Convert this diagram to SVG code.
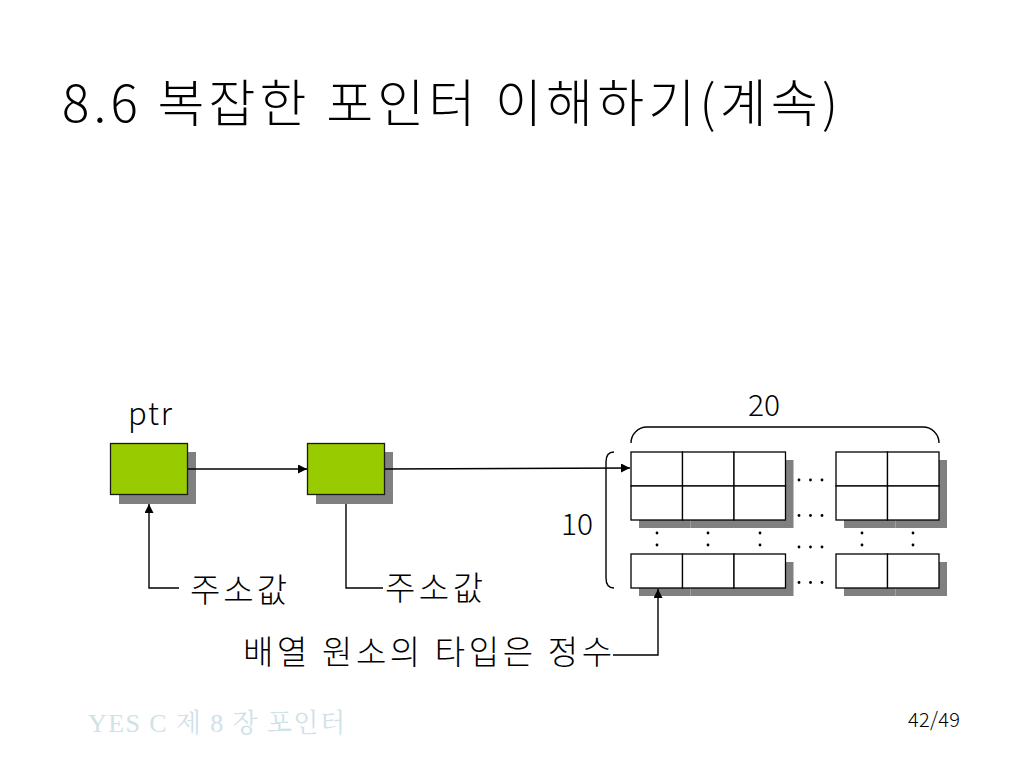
<svg xmlns="http://www.w3.org/2000/svg" width="1024" height="768" viewBox="0 0 1024 768">
<style>
.ko{font-family:"Noto Sans CJK KR","Noto Sans",sans-serif;fill:#000;font-weight:300}
.la{font-family:"Noto Sans CJK KR","Liberation Sans",sans-serif;fill:#000;font-weight:300}
.ptrbox{fill:#99cc00;stroke:#1a1a1a;stroke-width:1.3}
.shadow{fill:#808080}
.cell{fill:#ffffff;stroke:#000;stroke-width:1.3}
.ln{fill:none;stroke:#000;stroke-width:1.4}
.dot{fill:#000}
</style>
<defs>
<marker id="ah" viewBox="0 0 10 10" refX="10" refY="5" markerWidth="10" markerHeight="9" markerUnits="userSpaceOnUse" orient="auto">
<path d="M0,0 L10,5 L0,10 z" fill="#000"/>
</marker>
</defs>
<rect width="1024" height="768" fill="#fff"/>

<text class="ko" x="62" y="122" font-size="51" textLength="776" lengthAdjust="spacing">8.6 복잡한 포인터 이해하기(계속)</text>

<g id="ptr-node">
<text class="la" x="128" y="425" font-size="31" textLength="44" lengthAdjust="spacing">ptr</text>
<rect class="shadow" x="119" y="452" width="77" height="52"/>
<rect class="ptrbox" x="110.5" y="443.5" width="77" height="51"/>
</g>

<g id="pptr-node">
<rect class="shadow" x="316" y="452" width="77" height="52"/>
<rect class="ptrbox" x="307.5" y="443.5" width="77" height="51"/>
</g>

<g id="array-node">
<g class="shadow">
<rect x="639" y="460" width="51.5" height="34"/><rect x="690.5" y="460" width="51.5" height="34"/><rect x="742" y="460" width="51.5" height="34"/>
<rect x="639" y="494" width="51.5" height="34"/><rect x="690.5" y="494" width="51.5" height="34"/><rect x="742" y="494" width="51.5" height="34"/>
<rect x="639" y="562" width="51.5" height="34"/><rect x="690.5" y="562" width="51.5" height="34"/><rect x="742" y="562" width="51.5" height="34"/>
<rect x="844" y="460" width="51.5" height="34"/><rect x="895.5" y="460" width="51.5" height="34"/>
<rect x="844" y="494" width="51.5" height="34"/><rect x="895.5" y="494" width="51.5" height="34"/>
<rect x="844" y="562" width="51.5" height="34"/><rect x="895.5" y="562" width="51.5" height="34"/>
</g>
<g class="cell">
<rect x="631" y="452" width="51.5" height="34"/><rect x="682.5" y="452" width="51.5" height="34"/><rect x="734" y="452" width="51.5" height="34"/>
<rect x="631" y="486" width="51.5" height="34"/><rect x="682.5" y="486" width="51.5" height="34"/><rect x="734" y="486" width="51.5" height="34"/>
<rect x="631" y="554" width="51.5" height="34"/><rect x="682.5" y="554" width="51.5" height="34"/><rect x="734" y="554" width="51.5" height="34"/>
<rect x="836" y="452" width="51.5" height="34"/><rect x="887.5" y="452" width="51.5" height="34"/>
<rect x="836" y="486" width="51.5" height="34"/><rect x="887.5" y="486" width="51.5" height="34"/>
<rect x="836" y="554" width="51.5" height="34"/><rect x="887.5" y="554" width="51.5" height="34"/>
</g>
<g class="dot">
<circle cx="799" cy="480" r="1.4"/><circle cx="810.5" cy="480" r="1.4"/><circle cx="822" cy="480" r="1.4"/>
<circle cx="799" cy="515.5" r="1.4"/><circle cx="810.5" cy="515.5" r="1.4"/><circle cx="822" cy="515.5" r="1.4"/>
<circle cx="799" cy="547" r="1.4"/><circle cx="810.5" cy="547" r="1.4"/><circle cx="822" cy="547" r="1.4"/>
<circle cx="799" cy="582.5" r="1.4"/><circle cx="810.5" cy="582.5" r="1.4"/><circle cx="822" cy="582.5" r="1.4"/>
<circle cx="657" cy="533" r="1.4"/><circle cx="657" cy="545" r="1.4"/>
<circle cx="708" cy="533" r="1.4"/><circle cx="708" cy="545" r="1.4"/>
<circle cx="760" cy="533" r="1.4"/><circle cx="760" cy="545" r="1.4"/>
<circle cx="862" cy="533" r="1.4"/><circle cx="862" cy="545" r="1.4"/>
<circle cx="913" cy="533" r="1.4"/><circle cx="913" cy="545" r="1.4"/>
</g>
<path class="ln" stroke-width="1.2" d="M631,443 A16,16 0 0 1 647,427 L923,427 A16,16 0 0 1 939,443"/>
<path class="ln" stroke-width="1.2" d="M614,452 Q606,452 606,462 L606,578 Q606,588 614,588"/>
<text class="la" x="764" y="416" font-size="30" text-anchor="middle">20</text>
<text class="la" x="577" y="535" font-size="30" text-anchor="middle">10</text>
</g>

<g id="labels">
<text class="ko" x="190" y="602" font-size="33" textLength="97" lengthAdjust="spacing">주소값</text>
<text class="ko" x="385" y="600" font-size="33" textLength="98" lengthAdjust="spacing">주소값</text>
<text class="ko" x="243" y="664" font-size="33" textLength="369" lengthAdjust="spacing">배열 원소의 타입은 정수</text>
</g>

<g id="connectors">
<path class="ln" d="M188,469 L307,469" marker-end="url(#ah)"/>
<path class="ln" d="M385,469 L630,468" marker-end="url(#ah)"/>
<path class="ln" d="M179,588 L149,588 L149,504" marker-end="url(#ah)"/>
<path class="ln" d="M346,504 L346,588 L383,588"/>
<path class="ln" d="M613,655 L658,655 L658,589" marker-end="url(#ah)"/>
</g>

<g id="footer">
<text x="88" y="732" font-family="'Liberation Serif','Noto Serif CJK KR','Noto Sans CJK KR',serif" font-size="26" fill="#cfe2e8" textLength="257" lengthAdjust="spacing">YES C  제 8 장 포인터</text>
<text class="la" x="908" y="727" font-size="20" fill="#222" textLength="52" lengthAdjust="spacing">42/49</text>
</g>
</svg>
